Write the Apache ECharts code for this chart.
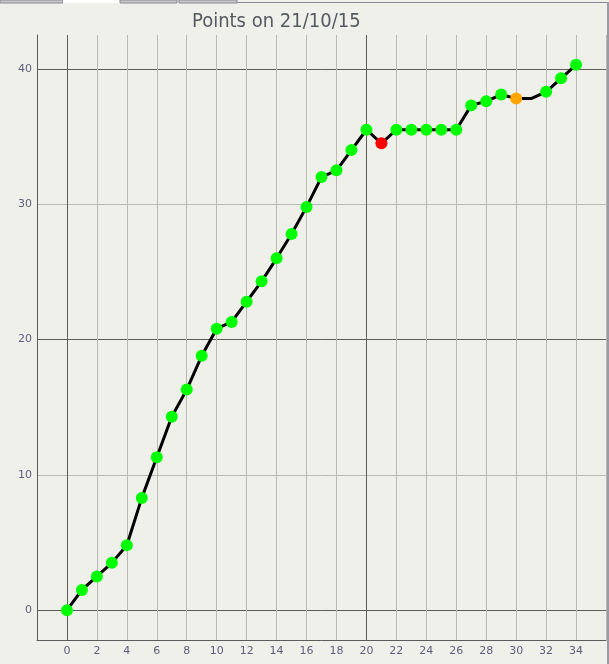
<!DOCTYPE html>
<html>
<head>
<meta charset="utf-8">
<style>
html,body{margin:0;padding:0;background:#f0f0eb;}
#chart{width:609px;height:664px;}
</style>
<script src="https://cdn.jsdelivr.net/npm/echarts@6/dist/echarts.min.js"></script>
</head>
<body>
<div id="chart"></div>
<script>
// ---- data ----
const titleText = 'Points on 21/10/15';
const xValues = [0,1,2,3,4,5,6,7,8,9,10,11,12,13,14,15,16,17,18,19,20,21,22,23,24,25,26,27,28,29,30,31,32,33,34];
const points  = [0,1.5,2.5,3.5,4.8,8.3,11.3,14.3,16.3,18.8,20.8,21.3,22.8,24.3,26.0,27.8,29.8,32.0,32.5,34.0,35.5,34.5,35.5,35.5,35.5,35.5,35.5,37.3,37.6,38.1,37.8,37.8,38.3,39.3,40.3];
// marker state per point: g = green, r = red, o = orange, n = no marker
const markerState = ['g','g','g','g','g','g','g','g','g','g','g','g','g','g','g','g','g','g','g','g','g','r','g','g','g','g','g','g','g','g','o','n','g','g','g'];
const yTicks = [0,10,20,30,40];
const yMajorTicks = [0,20,40];
const xMajorTicks = [0,20];

const stateColor = {g:'#00ff00', r:'#ff0000', o:'#ffa500'};
const font = 'DejaVu Sans';

const data = xValues.map((x,i)=>{
  const s = markerState[i];
  const item = {value:[x, points[i]]};
  if (s === 'n') { item.symbolSize = 0; item.itemStyle = {opacity:0}; }
  else { item.itemStyle = {color: stateColor[s]}; }
  return item;
});

const chart = echarts.init(document.getElementById('chart'), null, {renderer:'canvas'});
const xMin = -2, xMax = 36, yMin = -2.2, yMax = 42.5;
const light = '#b9b9b4', dark = '#5c5c5c';
chart.setOption({
  backgroundColor:'#f0f0eb',
  animation:false,
  title:{text:titleText, left:187, top:7, textStyle:{fontFamily:'DejaVu Sans Condensed, DejaVu Sans', fontSize:20, fontWeight:'normal', color:'#555a60'}},
  grid:{left:37, right:2, top:35, bottom:24, containLabel:false},
  xAxis:[
    {type:'value', min:xMin, max:xMax, interval:2,
     axisLine:{show:true, onZero:false, lineStyle:{color:dark, width:1}},
     axisTick:{show:false},
     axisLabel:{color:'#5e5e7a', fontFamily:font, fontSize:11, margin:6,
       formatter:v=> (v<0||v>34)?'':String(v)},
     splitLine:{show:true, lineStyle:{color:light, width:1}}},
    {type:'value', min:xMin, max:xMax, position:'bottom',
     axisLine:{show:false},
     axisTick:{show:false, customValues:xMajorTicks},
     axisLabel:{show:false, customValues:xMajorTicks},
     splitLine:{show:true, lineStyle:{color:dark, width:1}}}
  ],
  yAxis:[
    {type:'value', min:yMin, max:yMax,
     axisLine:{show:true, onZero:false, lineStyle:{color:dark, width:1}},
     axisTick:{show:false, customValues:yTicks},
     axisLabel:{color:'#5e5e7a', fontFamily:font, fontSize:11, margin:5, customValues:yTicks},
     splitLine:{show:true, lineStyle:{color:light, width:1}}},
    {type:'value', min:yMin, max:yMax, position:'left',
     axisLine:{show:false},
     axisTick:{show:false, customValues:yMajorTicks},
     axisLabel:{show:false, customValues:yMajorTicks},
     splitLine:{show:true, lineStyle:{color:dark, width:1}}}
  ],
  graphic:[
    {type:'rect', shape:{x:0,y:0,width:63,height:3}, style:{fill:'#c8c8c8', stroke:'#8a8a94', lineWidth:1}, z:100},
    {type:'rect', shape:{x:63,y:0,width:57,height:3}, style:{fill:'#ffffff'}, z:100},
    {type:'rect', shape:{x:120,y:0,width:57,height:3}, style:{fill:'#c8c8c8', stroke:'#8a8a94', lineWidth:1}, z:100},
    {type:'rect', shape:{x:179,y:0,width:58,height:3}, style:{fill:'#c8c8c8', stroke:'#8a8a94', lineWidth:1}, z:100},
    {type:'line', shape:{x1:237,y1:2.5,x2:609,y2:2.5}, style:{stroke:'#8a8a94', lineWidth:1}, z:100},
    {type:'rect', shape:{x:607,y:2,width:2,height:662}, style:{fill:'#9a9aa4'}, z:100}
  ],
  series:[{
    type:'line', data:data, xAxisIndex:0, yAxisIndex:0,
    symbol:'circle', symbolSize:12, showSymbol:true,
    lineStyle:{color:'#000', width:3},
    itemStyle:{borderWidth:0},
    z:10
  }]
});
</script>
</body>
</html>
